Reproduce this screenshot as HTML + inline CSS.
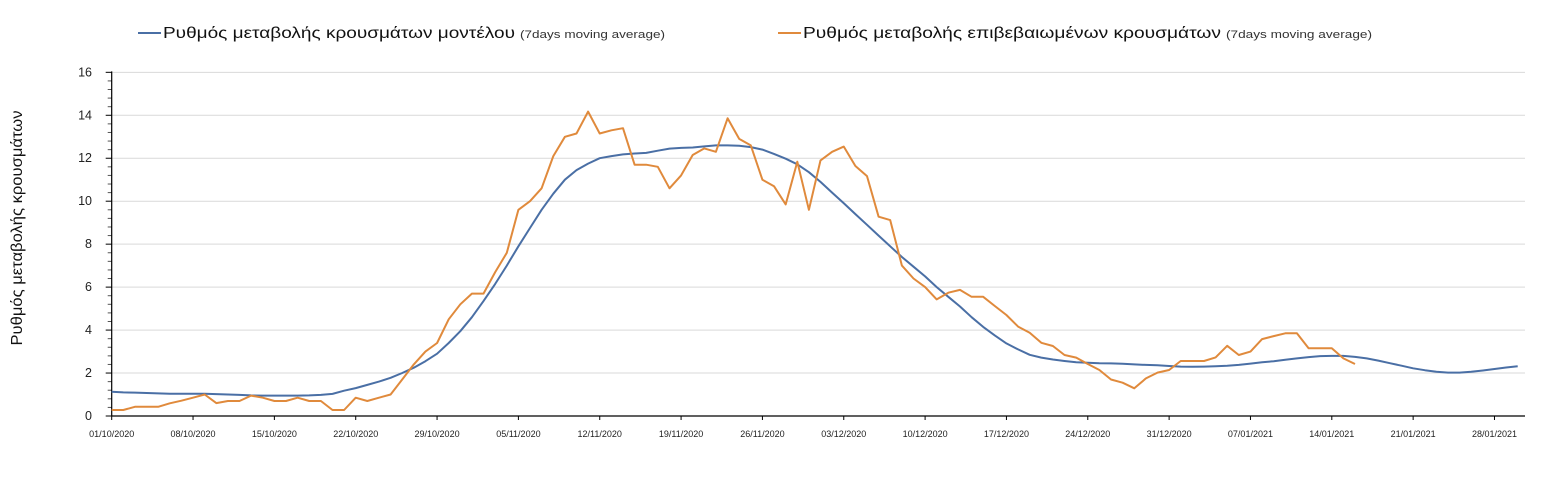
<!DOCTYPE html>
<html><head><meta charset="utf-8"><style>
body{margin:0;background:#fff;font-family:"Liberation Sans","DejaVu Sans",sans-serif}
</style></head><body>
<svg id="chart" width="1563" height="497" xmlns="http://www.w3.org/2000/svg" font-family="Liberation Sans, DejaVu Sans, sans-serif">
<g>
<g>
<line x1="138" y1="33" x2="161" y2="33" stroke="#4a6fa5" stroke-width="2"/>
<text x="163" y="38" font-size="15.5" fill="#111" textLength="352" lengthAdjust="spacingAndGlyphs">Ρυθμός μεταβολής κρουσμάτων μοντέλου</text>
<text x="520" y="38" font-size="11" fill="#333" textLength="145" lengthAdjust="spacingAndGlyphs">(7days moving average)</text>
</g>
<g>
<line x1="778" y1="33" x2="801" y2="33" stroke="#e08a3c" stroke-width="2"/>
<text x="803" y="38" font-size="15.5" fill="#111" textLength="418" lengthAdjust="spacingAndGlyphs">Ρυθμός μεταβολής επιβεβαιωμένων κρουσμάτων</text>
<text x="1226" y="38" font-size="11" fill="#333" textLength="146" lengthAdjust="spacingAndGlyphs">(7days moving average)</text>
</g>
</g>
<text transform="translate(22,228) rotate(-90)" text-anchor="middle" font-size="16" fill="#111" textLength="235" lengthAdjust="spacingAndGlyphs">Ρυθμός μεταβολής κρουσμάτων</text>
<g id="grid"></g><g id="axes"></g><g id="series"></g>
</svg>
<script>
const yTicks=[0,2,4,6,8,10,12,14,16];
const xTickLabels=["01/10/2020","08/10/2020","15/10/2020","22/10/2020","29/10/2020","05/11/2020","12/11/2020","19/11/2020","26/11/2020","03/12/2020","10/12/2020","17/12/2020","24/12/2020","31/12/2020","07/01/2021","14/01/2021","21/01/2021","28/01/2021"];
const modelRate=[1.13,1.1,1.09,1.07,1.05,1.04,1.04,1.04,1.04,1.02,1.0,0.98,0.96,0.95,0.95,0.95,0.95,0.96,0.98,1.03,
1.18,1.3,1.45,1.6,1.78,2.0,2.25,2.55,2.9,3.4,3.95,4.6,5.35,6.15,7.0,7.9,8.75,9.6,10.35,11.0,
11.45,11.75,12.0,12.1,12.18,12.22,12.25,12.35,12.45,12.48,12.5,12.55,12.6,12.6,12.58,12.52,12.4,12.2,11.98,11.72,
11.35,10.9,10.4,9.9,9.4,8.9,8.4,7.9,7.4,6.95,6.5,6.0,5.55,5.1,4.6,4.15,3.75,3.38,3.1,2.85,
2.72,2.63,2.56,2.5,2.48,2.46,2.45,2.43,2.4,2.38,2.36,2.33,2.3,2.29,2.3,2.32,2.34,2.38,2.44,2.5,
2.55,2.62,2.68,2.74,2.79,2.8,2.8,2.75,2.68,2.58,2.46,2.34,2.22,2.13,2.06,2.02,2.02,2.06,2.12,2.19,2.26,2.32];
const confirmedRate=[0.28,0.28,0.43,0.43,0.43,0.59,0.71,0.85,1.0,0.6,0.7,0.7,0.95,0.85,0.7,0.7,0.85,0.7,0.7,0.28,
0.28,0.85,0.7,0.85,1.0,1.7,2.4,3.0,3.4,4.5,5.2,5.7,5.7,6.7,7.6,9.6,10.0,10.6,12.1,13.0,
13.15,14.17,13.15,13.3,13.4,11.7,11.7,11.6,10.6,11.2,12.15,12.46,12.3,13.86,12.9,12.6,11.0,10.7,9.85,11.84,
9.6,11.9,12.3,12.54,11.64,11.17,9.28,9.12,7.0,6.4,6.0,5.43,5.74,5.87,5.55,5.55,5.12,4.7,4.16,3.88,
3.41,3.26,2.84,2.72,2.42,2.14,1.7,1.55,1.29,1.75,2.02,2.14,2.56,2.56,2.56,2.73,3.27,2.84,3.0,3.58,
3.72,3.85,3.85,3.15,3.15,3.15,2.68,2.42];
const X0=111.7,DX=11.62,Y0=416,DY=21.48,XR=1525;
const sx=d=>X0+d*DX, sy=v=>Y0-v*DY;
const NS="http://www.w3.org/2000/svg";
function mk(tag,attrs,parent){const e=document.createElementNS(NS,tag);for(const k in attrs)e.setAttribute(k,attrs[k]);parent.appendChild(e);return e;}
const grid=document.getElementById('grid'),axes=document.getElementById('axes'),series=document.getElementById('series');
yTicks.forEach(v=>{
  if(v>0){const g=mk('line',{x1:X0,x2:XR,y1:sy(v),y2:sy(v),stroke:'#d9d9d9','stroke-width':1},grid);
  
  }
  const t=mk('text',{x:92,y:sy(v)+4,'text-anchor':'end','font-size':12.5,fill:'#222'},axes);t.textContent=v;
  
  
  mk('line',{x1:X0-6,x2:X0,y1:sy(v),y2:sy(v),stroke:'#000'},axes);
});
for(let v=0.4;v<16;v+=0.4){if(Math.abs(v/2-Math.round(v/2))>0.01)mk('line',{x1:X0-4,x2:X0,y1:sy(v),y2:sy(v),stroke:'#555'},axes);}
const ya=mk('line',{x1:X0,x2:X0,y1:sy(16)-1,y2:Y0,stroke:'#000','stroke-width':1.2},axes);


const xa=mk('line',{x1:X0,x2:XR,y1:Y0,y2:Y0,stroke:'#000','stroke-width':1.2},axes);


xTickLabels.forEach((s,i)=>{const x=sx(i*7);
  mk('line',{x1:x,x2:x,y1:Y0,y2:Y0+4,stroke:'#000'},axes);
  const t=mk('text',{x:x,y:437,'text-anchor':'middle','font-size':9,fill:'#222'},axes);t.textContent=s;
  
  
});
function path(arr){return arr.map((v,i)=>(i?'L':'M')+sx(i).toFixed(1)+','+sy(v).toFixed(1)).join('');}
const pb=mk('path',{d:path(modelRate),fill:'none',stroke:'#4a6fa5','stroke-width':2,'stroke-linejoin':'round'},series);


const po=mk('path',{d:path(confirmedRate),fill:'none',stroke:'#e08a3c','stroke-width':2,'stroke-linejoin':'round'},series);


</script>
</body></html>
